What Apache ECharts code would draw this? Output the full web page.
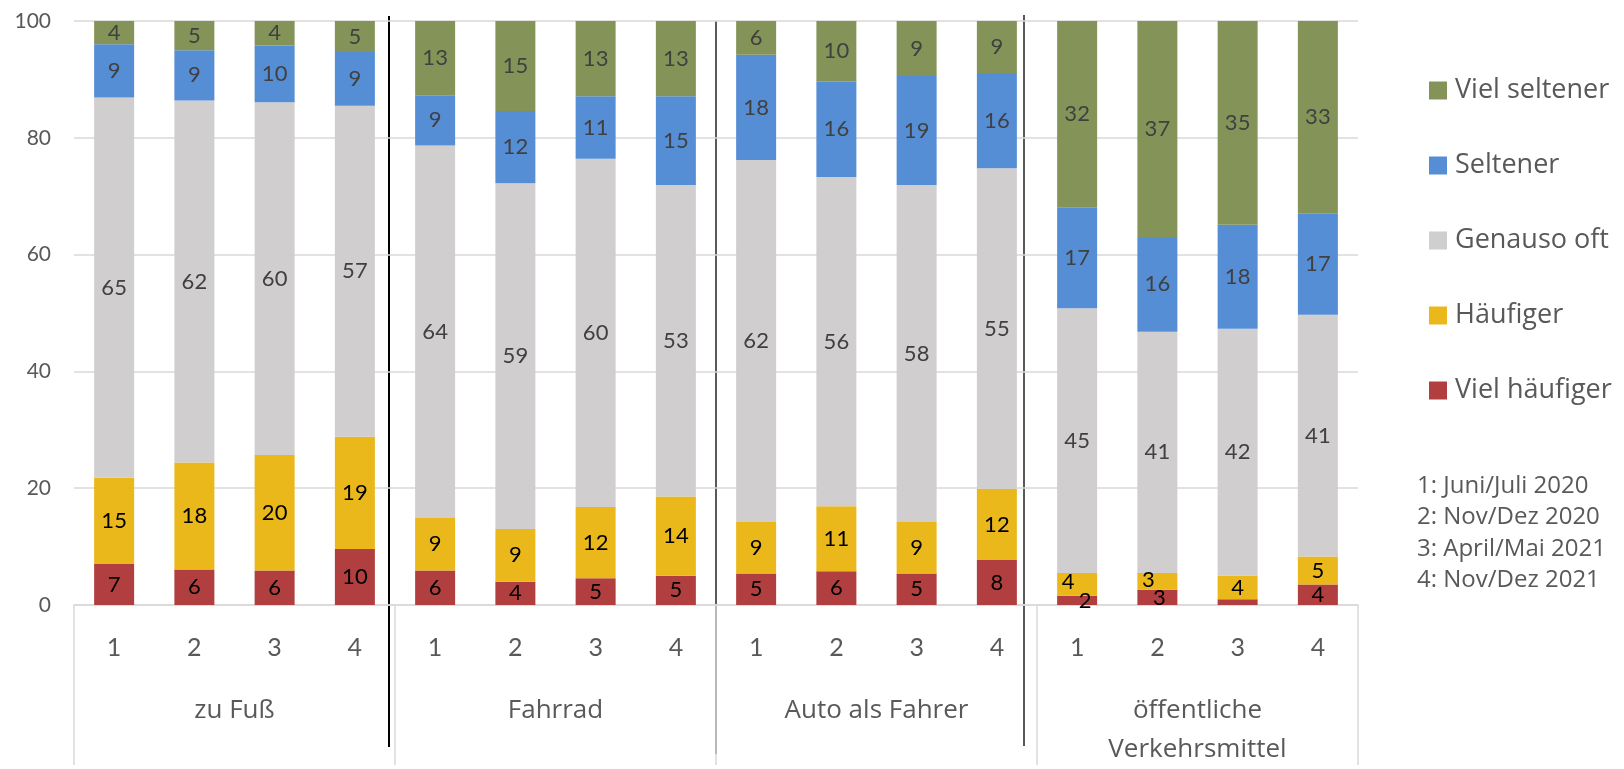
<!DOCTYPE html>
<html>
<head>
<meta charset="utf-8">
<script src="https://cdn.jsdelivr.net/npm/echarts@6/dist/echarts.min.js"></script>
<style>
  html, body { margin: 0; padding: 0; background: #fff; }
  #main { width: 1624px; height: 769px; }
</style>
</head>
<body>
<div id="main"></div>
<script>
// Zeitpunkte (1..4) je Verkehrsmittel
const waves = ["1", "2", "3", "4"];
const groups = ["zu Fuß", "Fahrrad", "Auto als Fahrer", "öffentliche\nVerkehrsmittel"];
const categories = groups.flatMap(() => waves);

const yTicks = [0, 20, 40, 60, 80, 100];

// Anteile in %, Reihenfolge: zu Fuß 1-4, Fahrrad 1-4, Auto 1-4, ÖV 1-4
const vielHaeufiger = [7.0, 6.1, 5.9, 9.6, 5.9, 4.0, 4.6, 5.0, 5.4, 5.8, 5.4, 7.7, 1.6, 2.6, 1.0, 3.5];
const haeufiger = [14.8, 18.3, 19.8, 19.2, 9.0, 9.0, 12.2, 13.6, 8.8, 11.1, 8.8, 12.2, 3.9, 2.9, 4.0, 4.8];
const genausoOft = [65.1, 62.0, 60.4, 56.7, 63.8, 59.2, 59.6, 53.3, 62.0, 56.4, 57.7, 54.9, 45.3, 41.3, 42.3, 41.4];
const seltener = [9.1, 8.6, 9.7, 9.2, 8.6, 12.4, 10.7, 15.2, 18.0, 16.3, 18.7, 16.3, 17.3, 16.2, 17.8, 17.4];
const vielSeltener = [4.0, 5.0, 4.2, 5.3, 12.7, 15.4, 12.9, 12.9, 5.8, 10.4, 9.4, 8.9, 31.9, 37.0, 34.9, 32.9];

const notes = ["1: Juni/Juli 2020", "2: Nov/Dez 2020", "3: April/Mai 2021", "4: Nov/Dez 2021"];

const chart = echarts.init(document.getElementById("main"));

const numFont = "Lato";
const txtFont = "Open Sans";

// kleine Korrekturen der Beschriftung bei den ganz schmalen Segmenten (ÖV)
const hiddenLabels = { vielHaeufiger: [14] };
const nudges = {
  vielHaeufiger: { 12: [8, 1], 13: [2, 0] },
  haeufiger: { 12: [-9, -2], 13: [-9, -1] },
};

const makeData = (key, arr) =>
  arr.map((v, i) => {
    const item = { value: v };
    if ((hiddenLabels[key] || []).includes(i)) item.label = { show: false };
    else if (nudges[key] && nudges[key][i]) item.label = { offset: nudges[key][i] };
    return item;
  });

const makeSeries = (name, key, arr, color, labelColor) => ({
  name: name,
  type: "bar",
  stack: "total",
  barWidth: 40,
  xAxisIndex: 0,
  itemStyle: { color: color },
  label: {
    show: true,
    position: "inside",
    color: labelColor,
    fontFamily: numFont,
    fontSize: 22,
    formatter: (p) => Math.round(p.value),
  },
  data: makeData(key, arr),
});

const option = {
  animation: false,
  grid: { left: 74, right: 266, top: 21, bottom: 158.5 },
  legend: {
    orient: "vertical",
    left: 1429,
    top: 77,
    padding: 0,
    itemWidth: 18,
    itemHeight: 18,
    itemGap: 48,
    icon: "rect",
    data: ["Viel seltener", "Seltener", "Genauso oft", "Häufiger", "Viel häufiger"],
    textStyle: { fontFamily: txtFont, fontSize: 27, lineHeight: 27, color: "#595959", padding: [0, 0, 0, 3] },
  },
  xAxis: [
    {
      type: "category",
      data: categories,
      axisLine: { lineStyle: { color: "#d9d9d9", width: 1.5 } },
      axisTick: { show: false },
      axisLabel: {
        interval: 0,
        margin: 30,
        fontFamily: numFont,
        fontSize: 25,
        lineHeight: 25,
        color: "#595959",
      },
    },
    {
      type: "category",
      position: "bottom",
      data: groups,
      axisLine: { show: false },
      axisTick: {
        show: true,
        interval: 0,
        length: 160,
        lineStyle: { color: "#d9d9d9", width: 1.5 },
      },
      axisLabel: {
        interval: 0,
        margin: 86,
        fontFamily: txtFont,
        fontSize: 26,
        lineHeight: 39,
        color: "#595959",
      },
    },
  ],
  yAxis: {
    type: "value",
    min: yTicks[0],
    max: yTicks[yTicks.length - 1],
    interval: 20,
    axisLine: { show: false },
    axisTick: { show: false },
    axisLabel: { margin: 23, fontFamily: numFont, fontSize: 21, color: "#595959" },
    splitLine: { lineStyle: { color: "#d9d9d9", width: 1.5 } },
  },
  series: [
    makeSeries("Viel häufiger", "vielHaeufiger", vielHaeufiger, "#B13F3F", "#000000"),
    makeSeries("Häufiger", "haeufiger", haeufiger, "#EAB81B", "#000000"),
    makeSeries("Genauso oft", "genausoOft", genausoOft, "#D0CECE", "#404040"),
    makeSeries("Seltener", "seltener", seltener, "#558ED5", "#404040"),
    makeSeries("Viel seltener", "vielSeltener", vielSeltener, "#849458", "#404040"),
  ],
  graphic: [
    // handgezeichnete Trennlinien zwischen den Gruppen
    { type: "line", shape: { x1: 389, y1: 16, x2: 389, y2: 747 }, style: { stroke: "#000", lineWidth: 2 } },
    { type: "line", shape: { x1: 716, y1: 21, x2: 716, y2: 754 }, style: { stroke: "#000", lineWidth: 1.3 } },
    { type: "line", shape: { x1: 1024, y1: 15, x2: 1024, y2: 746 }, style: { stroke: "#595959", lineWidth: 2 } },
    {
      type: "text",
      left: 1417,
      top: 470,
      style: {
        text: notes.join("\n"),
        font: "24px 'Open Sans'",
        lineHeight: 31.6,
        fill: "#595959",
      },
    },
  ],
};

chart.setOption(option);
</script>
</body>
</html>
